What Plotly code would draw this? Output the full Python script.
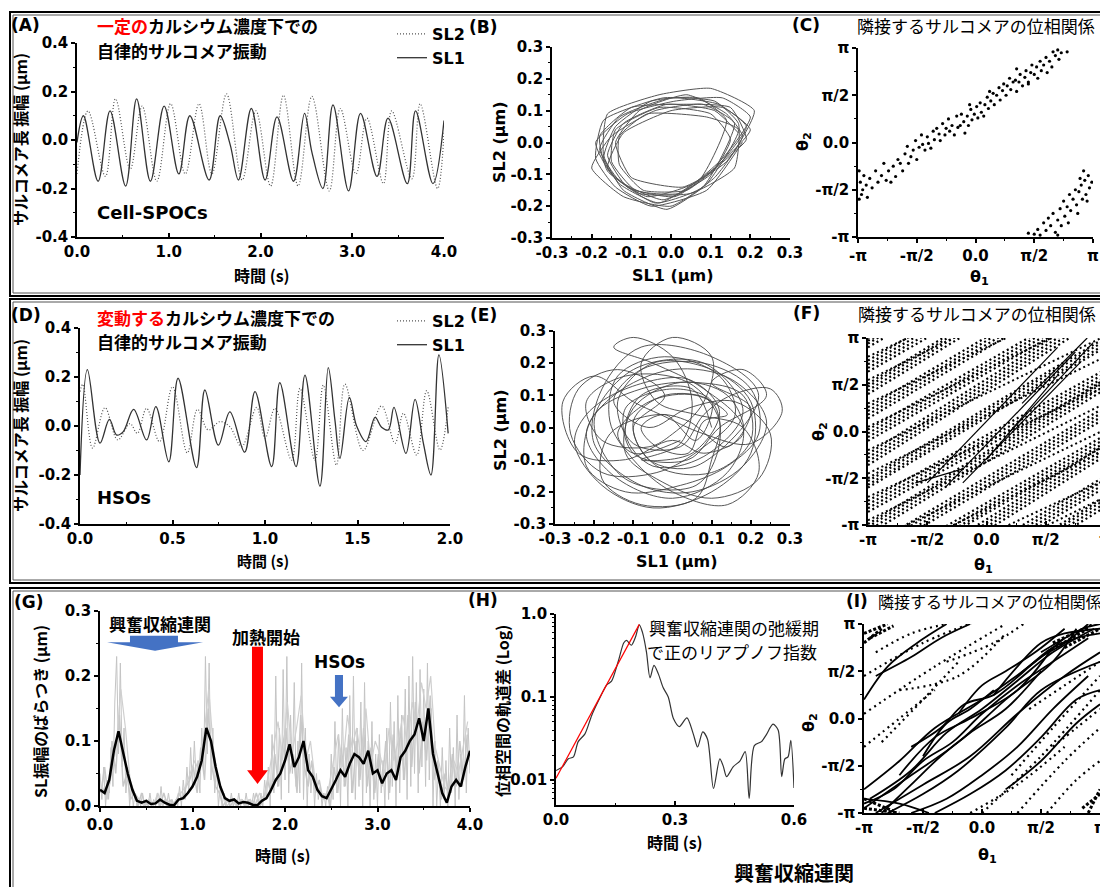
import numpy as np
import plotly.graph_objects as go

W, H = 1108, 887
OFF = 8  # the page body margin shifts the figure; reference pixel coords are corrected by this
LAT = "DejaVu Sans, Noto Sans CJK JP, sans-serif"
CJK = "Noto Sans CJK JP, DejaVu Sans, sans-serif"

# ---------------- (A) constant Ca: SL1 / SL2 amplitude vs time ----------------
a_sl1_t = [0.0, 0.07, 0.23, 0.36, 0.53, 0.65, 0.80, 0.95, 1.11, 1.23, 1.44, 1.56, 1.67, 1.76, 1.90,
           2.05, 2.18, 2.36, 2.48, 2.56, 2.68, 2.79, 2.96, 3.09, 3.27, 3.39, 3.60, 3.69, 3.88, 4.0]
a_sl1 = [-0.01, 0.10, -0.17, 0.12, -0.19, 0.17, -0.17, 0.14, -0.14, 0.10, -0.165, 0.10, -0.02, -0.165, 0.13,
         -0.165, 0.095, -0.17, 0.11, -0.05, -0.20, 0.145, -0.21, 0.11, -0.15, 0.09, -0.18, 0.12, -0.18, 0.08]
a_sl2_t = [0.0, 0.12, 0.31, 0.42, 0.58, 0.71, 0.87, 1.02, 1.18, 1.33, 1.47, 1.63, 1.80, 1.95, 2.11,
           2.25, 2.41, 2.56, 2.75, 2.87, 3.04, 3.16, 3.34, 3.43, 3.65, 3.74, 3.93, 4.0]
a_sl2 = [-0.14, 0.12, -0.15, 0.17, -0.12, 0.14, -0.17, 0.15, -0.14, 0.15, -0.14, 0.19, -0.165, 0.12, -0.19,
         0.185, -0.19, 0.18, -0.21, 0.13, -0.14, 0.09, -0.18, 0.12, -0.16, 0.15, -0.20, 0.03]

# ---------------- (B) SL2 vs SL1 loops ----------------
b_sl1 = [0.17, 0.11, -0.01, -0.12, -0.16, -0.11, 0.01, 0.12,
         0.19, 0.12, 0.00, -0.13, -0.18, -0.13, -0.02, 0.10,
         0.15, 0.10, -0.03, -0.14, -0.15, -0.09, 0.02, 0.13,
         0.20, 0.13, 0.01, -0.11, -0.19, -0.15, -0.04, 0.08,
         0.16, 0.08, -0.04, -0.15, -0.20, -0.12, 0.00, 0.11,
         0.18, 0.14, 0.04, -0.08, -0.14, -0.10, 0.03, 0.14,
         0.21, 0.10, -0.03, -0.16, -0.17, -0.12, -0.01, 0.09,
         0.17, 0.09, -0.06, -0.13, -0.13, -0.07, 0.04, 0.15,
         0.19, 0.15, 0.02, -0.10, -0.18, -0.16, -0.06, 0.07,
         0.14, 0.07, -0.05, -0.14, -0.17, -0.13, -0.03, 0.10,
         0.20, 0.13, 0.00, -0.12, -0.16, -0.08, 0.05, 0.16,
         0.17, 0.11, -0.02, -0.17, -0.19, -0.14, -0.05, 0.09, 0.18]
b_sl2 = [0.03, 0.10, 0.12, 0.06, -0.04, -0.14, -0.17, -0.07,
         0.05, 0.12, 0.14, 0.08, -0.02, -0.12, -0.18, -0.10,
         0.01, 0.09, 0.11, 0.04, -0.06, -0.15, -0.16, -0.05,
         0.08, 0.14, 0.13, 0.09, 0.00, -0.10, -0.19, -0.14,
         0.06, 0.12, 0.10, 0.02, -0.08, -0.17, -0.20, -0.11,
         0.02, 0.09, 0.15, 0.10, 0.00, -0.11, -0.14, -0.06,
         0.10, 0.17, 0.15, 0.09, -0.04, -0.15, -0.21, -0.13,
         0.04, 0.08, 0.09, 0.02, -0.07, -0.15, -0.15, -0.04,
         0.01, 0.11, 0.12, 0.11, 0.02, -0.09, -0.17, -0.12,
         0.07, 0.14, 0.13, 0.05, -0.05, -0.13, -0.19, -0.09,
         0.04, 0.11, 0.10, 0.03, -0.08, -0.16, -0.16, -0.08,
         0.06, 0.13, 0.14, 0.07, -0.05, -0.14, -0.20, -0.15, 0.00]

# ---------------- (C) phase relation, constant Ca (units of pi) ----------------
c_theta1 = [-0.99, -0.98, -0.97, -0.99, -0.96, -0.95, -0.93, -0.92, -0.90, -0.88,
            -0.85, -0.83, -0.80, -0.78, -0.76, -0.74, -0.72, -0.70, -0.68, -0.66,
            -0.64, -0.62, -0.60, -0.58, -0.57, -0.55, -0.53, -0.51, -0.50, -0.48,
            -0.46, -0.45, -0.43, -0.41, -0.40, -0.38, -0.36, -0.35, -0.33, -0.31,
            -0.30, -0.28, -0.26, -0.25, -0.23, -0.22, -0.20, -0.18, -0.16, -0.15,
            -0.13, -0.12, -0.10, -0.09, -0.07, -0.06, -0.04, -0.03, -0.01, 0.01,
            0.02, 0.04, 0.05, 0.07, 0.08, 0.10, 0.11, 0.13, 0.15, 0.16,
            0.18, 0.20, 0.21, 0.23, 0.24, 0.26, 0.27, 0.29, 0.30, 0.32,
            0.34, 0.35, 0.37, 0.38, 0.40, 0.42, 0.43, 0.45, 0.47, 0.48,
            0.50, 0.52, 0.53, 0.55, 0.56, 0.58, 0.60, 0.61, 0.63, 0.65,
            0.66, 0.68, 0.70, 0.71, 0.73, 0.78, 0.35, 0.12, -0.05, 0.45,
            0.45, 0.50, 0.53, 0.55, 0.58, 0.60, 0.62, 0.64, 0.66, 0.68,
            0.70, 0.72, 0.73, 0.75, 0.76, 0.78, 0.80, 0.81, 0.83, 0.85,
            0.86, 0.88, 0.90, 0.91, 0.93, 0.94, 0.96, 0.97, 0.99, 0.92,
            0.87, 0.79, 0.70, 0.95, 0.89]
c_theta2 = [-0.30, -0.42, -0.55, -0.60, -0.50, -0.35, -0.45, -0.58, -0.38, -0.48,
            -0.30, -0.42, -0.35, -0.22, -0.40, -0.30, -0.42, -0.25, -0.36, -0.18,
            -0.22, -0.30, -0.12, -0.04, -0.22, -0.15, -0.08, 0.02, -0.18, -0.05,
            0.08, -0.02, -0.08, 0.06, -0.01, -0.06, 0.12, 0.03, 0.15, 0.09,
            0.02, 0.20, 0.08, 0.15, 0.25, 0.12, 0.18, 0.08, 0.28, 0.16,
            0.18, 0.30, 0.22, 0.10, 0.28, 0.18, 0.35, 0.24, 0.30, 0.38,
            0.26, 0.42, 0.32, 0.28, 0.40, 0.48, 0.36, 0.44, 0.52, 0.40,
            0.50, 0.58, 0.45, 0.55, 0.62, 0.50, 0.60, 0.68, 0.56, 0.64,
            0.66, 0.54, 0.64, 0.72, 0.60, 0.69, 0.76, 0.64, 0.74, 0.82,
            0.72, 0.80, 0.68, 0.86, 0.76, 0.82, 0.90, 0.74, 0.86, 0.80,
            0.96, 0.92, 0.98, 0.88, 0.95, 0.96, 0.78, 0.54, 0.40, 0.62,
            -0.96, -0.97, -0.92, -0.98, -0.85, -0.93, -0.80, -0.88, -0.75, -0.95,
            -0.82, -0.70, -0.88, -0.62, -0.78, -0.68, -0.55, -0.72, -0.60, -0.50,
            -0.66, -0.52, -0.45, -0.60, -0.40, -0.55, -0.35, -0.48, -0.42, -0.30,
            -0.75, -0.85, -0.98, -0.62, -0.38]

# ---------------- (D) varying Ca: SL1 / SL2 vs time ----------------
d_sl1_t = [0.0, 0.04, 0.108, 0.159, 0.198, 0.234, 0.29, 0.36, 0.41, 0.48, 0.53, 0.63, 0.675, 0.748, 0.81,
           0.89, 0.946, 1.036, 1.08, 1.168, 1.216, 1.297, 1.342, 1.378, 1.405, 1.456, 1.495, 1.546, 1.595,
           1.63, 1.667, 1.697, 1.762, 1.811, 1.856, 1.897, 1.94, 1.99]
d_sl1 = [-0.2, 0.23, -0.07, 0.027, -0.037, -0.023, 0.068, -0.057, 0.079, -0.146, 0.195, -0.17, 0.147, -0.078,
         0.058, -0.107, 0.14, -0.166, 0.177, -0.166, 0.208, -0.245, 0.238, 0.024, -0.132, 0.117, 0.0, -0.064,
         0.035, -0.005, -0.016, 0.076, -0.112, 0.109, -0.07, -0.2, 0.29, -0.03]
d_sl2_t = [0.0, 0.015, 0.068, 0.135, 0.204, 0.27, 0.31, 0.36, 0.43, 0.5, 0.58, 0.635, 0.693, 0.757, 0.81,
           0.874, 0.955, 1.0, 1.054, 1.144, 1.189, 1.27, 1.315, 1.386, 1.432, 1.53, 1.63, 1.703, 1.748,
           1.82, 1.874, 1.946, 1.99]
d_sl2 = [0.14, 0.17, -0.09, 0.075, -0.057, 0.01, -0.03, 0.072, -0.064, 0.16, -0.11, 0.068, -0.016, 0.018,
         -0.003, -0.084, 0.076, -0.05, 0.072, -0.139, 0.154, -0.14, 0.167, -0.16, 0.171, -0.1, 0.082, -0.07,
         0.052, -0.119, 0.144, -0.098, 0.076]

# ---------------- (E) SL2 vs SL1 loops (varying Ca) ----------------
e_sl1 = [0.10, 0.05, -0.08, -0.12, -0.05, 0.08,
         0.18, 0.08, -0.10, -0.20, -0.12, 0.06,
         0.12, 0.10, -0.02, -0.10, -0.06, 0.06,
         0.22, 0.10, -0.08, -0.18, -0.20, -0.08,
         0.05, 0.18, 0.24, 0.15, 0.00, -0.15,
         -0.22, -0.15, 0.00, 0.14, 0.18, 0.08,
         -0.05, -0.15, -0.10, 0.00, 0.05, 0.02,
         -0.08, 0.05, 0.12, 0.04, -0.12, -0.22,
         -0.25, -0.18, -0.05, 0.10, 0.20, 0.20,
         0.10, -0.05, -0.14, -0.10, 0.02, 0.08,
         0.15, 0.25, 0.28, 0.20, 0.08, -0.03,
         -0.10, -0.20, -0.28, -0.24, -0.12, 0.00,
         0.08, 0.18, 0.14, 0.02, -0.10, -0.12,
         -0.04, 0.10, 0.22, 0.25, 0.16, 0.04,
         -0.06, -0.15, -0.08, 0.08, 0.20, 0.22,
         0.14, 0.02, -0.12, -0.22, -0.20, -0.08,
         0.06, 0.18, 0.20, 0.10, -0.04, -0.10,
         -0.02, -0.14, -0.24, -0.26, -0.18, -0.04,
         0.08, 0.16, 0.12, -0.02, -0.14, -0.16,
         -0.10, 0.00, 0.14, 0.22, 0.18, 0.06,
         -0.04, -0.08, 0.00, 0.10, 0.08, 0.00,
         -0.06, -0.18, -0.22, -0.12, 0.04, 0.12,
         0.10, 0.06, -0.08, -0.18, -0.16, -0.04,
         0.04, 0.14, 0.20, 0.10, 0.18, 0.24,
         0.12, 0.04, -0.10, -0.12, 0.00, 0.10,
         0.06, -0.02, -0.08, -0.04, 0.04, 0.08,
         0.14, 0.06, -0.06, -0.14, -0.10, 0.02]
e_sl2 = [0.00, 0.12, 0.10, -0.02, -0.12, -0.09,
         0.05, 0.20, 0.18, 0.02, -0.16, -0.18,
         -0.05, 0.08, 0.10, 0.02, -0.10, -0.12,
         0.10, 0.22, 0.25, 0.12, -0.05, -0.18,
         -0.20, -0.12, 0.02, 0.15, 0.18, 0.10,
         -0.02, -0.15, -0.22, -0.14, 0.00, 0.12,
         0.20, 0.25, 0.28, 0.22, 0.08, -0.05,
         -0.10, -0.08, 0.05, 0.15, 0.12, 0.04,
         -0.05, -0.18, -0.25, -0.20, -0.08, 0.08,
         0.18, 0.20, 0.08, -0.05, -0.06, 0.04,
         0.10, 0.12, 0.05, -0.05, -0.02, 0.04,
         0.08, 0.16, 0.08, -0.08, -0.10, -0.04,
         -0.08, -0.02, 0.10, 0.14, 0.06, -0.08,
         -0.16, -0.22, -0.16, -0.02, 0.08, 0.06,
         0.00, 0.08, 0.18, 0.20, 0.12, -0.02,
         -0.12, -0.18, -0.20, -0.12, 0.04, 0.12,
         0.14, 0.10, -0.04, -0.14, -0.12, 0.00,
         0.10, 0.18, 0.12, -0.02, -0.14, -0.14,
         -0.06, 0.04, 0.16, 0.22, 0.16, 0.02,
         -0.10, -0.20, -0.24, -0.14, 0.00, 0.04,
         0.08, 0.20, 0.28, 0.22, 0.08, -0.02,
         -0.06, -0.04, 0.08, 0.16, 0.14, 0.02,
         -0.10, -0.22, -0.24, -0.16, -0.02, 0.04,
         0.02, -0.06, 0.06, 0.14, 0.18, 0.10,
         0.00, -0.10, -0.08, 0.06, 0.12, 0.08,
         -0.04, 0.04, 0.00, -0.06, -0.08, 0.02,
         0.04, 0.10, 0.08, -0.02, -0.08, -0.04]

# ---------------- (F) phase relation streaks, varying Ca (units of pi) ----------------
f_left = [-2.60, -2.56, -2.52, -2.48, -2.36, -2.32, -2.28, -2.25, -2.10, -2.06, -2.02, -1.98,
          -1.86, -1.82, -1.78, -1.74, -1.60, -1.57, -1.53, -1.49, -1.36, -1.32, -1.28, -1.24,
          -1.10, -1.06, -1.02, -0.99, -0.86, -0.82, -0.78, -0.74, -0.60, -0.57, -0.53, -0.50,
          -0.36, -0.32, -0.28, -0.24, -0.10, -0.06, -0.02, 0.02, 0.14, 0.18, 0.22, 0.26,
          0.40, 0.44, 0.48, 0.51, 0.64, 0.68, 0.72, 0.76, 0.90, 0.94, 0.97, 1.00]
f_right = [-1.15, -1.11, -1.07, -1.03, -0.81, -0.77, -0.73, -0.70, -0.60, -0.56, -0.52, -0.48,
           -0.26, -0.22, -0.18, -0.14, -0.15, -0.12, -0.08, -0.04, 0.14, 0.18, 0.22, 0.26,
           0.45, 0.49, 0.53, 0.56, 0.54, 0.58, 0.62, 0.66, 0.90, 0.93, 0.97, 1.00,
           1.24, 1.28, 1.32, 1.36, 1.35, 1.39, 1.43, 1.47, 1.64, 1.68, 1.72, 1.76,
           1.95, 1.99, 2.03, 2.06, 2.09, 2.13, 2.17, 2.21, 2.40, 2.44, 2.47, 2.50]
f_left2 = [-2.20, -1.95, -1.70, -1.45, -1.20, -0.95, -0.70, -0.45, -0.20, 0.05, 0.30, 0.55, 0.80]
f_right2 = [-1.00, -0.70, -0.52, -0.20, 0.02, 0.30, 0.48, 0.80, 1.02, 1.28, 1.50, 1.80, 2.00]
f_ex_x0 = [-0.35, -0.20, -0.50, 0.20, -0.60, 0.00, 0.30]
f_ex_y0 = [-0.60, -0.55, -0.55, 0.00, -0.55, -0.30, 0.30]
f_ex_x1 = [0.75, 0.80, 0.60, 0.90, -0.20, 0.60, 0.85]
f_ex_y1 = [0.85, 0.75, 0.90, 0.95, -0.40, 0.60, 1.00]

# ---------------- (G) SL amplitude variability ----------------
g_gray1 = [0.05, 0.01, 0.06, 0.00, 0.04, 0.02, 0.09, 0.03, 0.16, 0.23,
           0.08, 0.22, 0.06, 0.12, 0.02, 0.06, 0.00, 0.03, 0.00, 0.02,
           0.00, 0.01, 0.00, 0.02, 0.00, 0.01, 0.00, 0.02, 0.00, 0.01,
           0.00, 0.02, 0.00, 0.03, 0.00, 0.01, 0.00, 0.02, 0.00, 0.01,
           0.00, 0.01, 0.00, 0.03, 0.00, 0.04, 0.01, 0.06, 0.02, 0.09,
           0.03, 0.10, 0.04, 0.07, 0.02, 0.12, 0.05, 0.23, 0.08, 0.22,
           0.04, 0.12, 0.02, 0.06, 0.00, 0.03, 0.00, 0.02, 0.00, 0.01,
           0.00, 0.02, 0.00, 0.01, 0.00, 0.02, 0.00, 0.01, 0.00, 0.02,
           0.00, 0.01, 0.00, 0.02, 0.00, 0.01, 0.00, 0.02, 0.00, 0.04,
           0.01, 0.06, 0.00, 0.11, 0.02, 0.20, 0.03, 0.12, 0.01, 0.21,
           0.04, 0.23, 0.02, 0.14, 0.05, 0.19, 0.03, 0.10, 0.02, 0.22,
           0.01, 0.12, 0.00, 0.08, 0.02, 0.06, 0.00, 0.05, 0.01, 0.03,
           0.00, 0.02, 0.00, 0.03, 0.00, 0.08, 0.01, 0.13, 0.02, 0.11,
           0.00, 0.15, 0.03, 0.09, 0.00, 0.17, 0.02, 0.20, 0.01, 0.12,
           0.03, 0.16, 0.00, 0.19, 0.02, 0.10, 0.00, 0.13, 0.01, 0.08,
           0.00, 0.11, 0.02, 0.07, 0.00, 0.12, 0.01, 0.16, 0.03, 0.13,
           0.00, 0.17, 0.02, 0.14, 0.04, 0.18, 0.01, 0.20, 0.03, 0.23,
           0.05, 0.19, 0.02, 0.21, 0.06, 0.18, 0.03, 0.22, 0.04, 0.15,
           0.00, 0.10, 0.00, 0.06, 0.00, 0.09, 0.01, 0.07, 0.00, 0.12,
           0.02, 0.09, 0.00, 0.14, 0.01, 0.08, 0.03, 0.17, 0.02, 0.12,
           0.05]
g_gray2 = [0.02, 0.06, 0.01, 0.10, 0.05, 0.14, 0.03, 0.05, 0.01, 0.02,
           0.00, 0.02, 0.00, 0.01, 0.00, 0.01, 0.00, 0.02, 0.00, 0.01,
           0.00, 0.02, 0.01, 0.03, 0.04, 0.06, 0.02, 0.09, 0.04, 0.15,
           0.06, 0.03, 0.02, 0.00, 0.01, 0.00, 0.01, 0.00, 0.01, 0.00,
           0.01, 0.00, 0.02, 0.00, 0.01, 0.04, 0.02, 0.08, 0.03, 0.09,
           0.12, 0.05, 0.08, 0.02, 0.14, 0.06, 0.03, 0.07, 0.02, 0.04,
           0.01, 0.02, 0.00, 0.06, 0.02, 0.09, 0.03, 0.11, 0.02, 0.10,
           0.04, 0.12, 0.03, 0.09, 0.02, 0.08, 0.03, 0.10, 0.02, 0.11,
           0.05, 0.12, 0.04, 0.14, 0.06, 0.16, 0.05, 0.13, 0.07, 0.17,
           0.04, 0.07, 0.01, 0.05, 0.02, 0.08, 0.03, 0.10, 0.04, 0.11]
g_gray3 = [0.03, 0.01, 0.05, 0.09, 0.18, 0.12, 0.04, 0.02, 0.01, 0.00,
           0.01, 0.00, 0.02, 0.00, 0.01, 0.00, 0.01, 0.02, 0.03, 0.05,
           0.07, 0.05, 0.11, 0.18, 0.09, 0.04, 0.02, 0.00, 0.01, 0.00,
           0.01, 0.00, 0.01, 0.00, 0.02, 0.01, 0.05, 0.09, 0.13, 0.07,
           0.16, 0.08, 0.12, 0.17, 0.07, 0.10, 0.04, 0.02, 0.01, 0.03,
           0.07, 0.11, 0.06, 0.14, 0.09, 0.12, 0.07, 0.15, 0.06, 0.10,
           0.08, 0.05, 0.12, 0.07, 0.10, 0.14, 0.09, 0.16, 0.12, 0.19,
           0.15, 0.20, 0.09, 0.06, 0.03, 0.02, 0.07, 0.05, 0.09, 0.13]
g_mean = [0.025, 0.02, 0.04, 0.085, 0.115, 0.08, 0.05, 0.025, 0.008, 0.005,
          0.008, 0.003, 0.004, 0.01, 0.005, 0.002, 0.001, 0.01, 0.012, 0.02,
          0.03, 0.045, 0.07, 0.12, 0.1, 0.06, 0.03, 0.012, 0.008, 0.01,
          0.004, 0.006, 0.005, 0.002, 0.001, 0.008, 0.012, 0.025, 0.04, 0.05,
          0.07, 0.095, 0.06, 0.075, 0.1, 0.055, 0.045, 0.025, 0.015, 0.012,
          0.025, 0.04, 0.055, 0.045, 0.065, 0.08, 0.075, 0.065, 0.085, 0.05,
          0.055, 0.035, 0.05, 0.055, 0.04, 0.075, 0.085, 0.1, 0.11, 0.135,
          0.1, 0.15, 0.08, 0.05, 0.02, 0.005, 0.03, 0.04, 0.03, 0.06,
          0.085]
g_t1 = np.round(np.arange(len(g_gray1)) * 0.02, 3)
g_t2 = np.round(0.01 + np.arange(len(g_gray2)) * 0.04, 3)
g_t3 = np.round(0.025 + np.arange(len(g_gray3)) * 0.05, 3)
g_tm = np.round(np.arange(len(g_mean)) * 0.05, 3)

# ---------------- (H) trajectory divergence (log) ----------------
h_t = [0.0, 0.017, 0.031, 0.044, 0.056, 0.073, 0.09, 0.107, 0.128, 0.14, 0.157, 0.171, 0.178, 0.19, 0.2,
       0.21, 0.218, 0.228, 0.237, 0.247, 0.258, 0.27, 0.283, 0.296, 0.311, 0.33, 0.346, 0.357, 0.37, 0.382,
       0.397, 0.413, 0.422, 0.43, 0.447, 0.464, 0.477, 0.487, 0.5, 0.518, 0.53, 0.547, 0.56, 0.569, 0.577,
       0.585, 0.592, 0.6]
h_v = [0.013, 0.0145, 0.018, 0.019, 0.029, 0.036, 0.06, 0.09, 0.14, 0.155, 0.27, 0.45, 0.48, 0.42, 0.52,
       0.74, 0.6, 0.35, 0.17, 0.24, 0.19, 0.13, 0.1, 0.055, 0.044, 0.056, 0.036, 0.025, 0.038, 0.031,
       0.0079, 0.018, 0.0145, 0.011, 0.0145, 0.017, 0.022, 0.006, 0.026, 0.029, 0.035, 0.047, 0.04, 0.011,
       0.018, 0.019, 0.03, 0.008]
h_fit_t = [0.0, 0.21]
h_fit_v = [0.0105, 0.75]

# ---------------- (I) phase relation, E-C coupling (units of pi) ----------------
i_solid_x = [[-1.0, -0.6, -0.2, 0.2, 0.6, 0.8], [-0.9, -0.5, -0.1, 0.3, 0.7, 1.0],
             [-1.0, -0.7, -0.4, 0.0, 0.4, 0.7], [-0.8, -0.5, -0.2, 0.2, 0.5, 1.0],
             [-0.7, -0.4, -0.1, 0.3, 0.6], [-0.6, -0.3, 0.0, 0.3, 0.6, 0.9],
             [-0.4, -0.1, 0.2, 0.5, 0.8, 1.0], [-1.0, -0.8, -0.55, -0.3],
             [-0.9, -0.6, -0.35, -0.1], [-0.2, 0.0, 0.2, 0.45, 0.7],
             [0.1, 0.3, 0.5, 0.7, 1.0], [0.3, 0.5, 0.7, 0.9],
             [-0.5, -0.3, -0.1, 0.1], [0.2, 0.5, 0.8, 1.0], [-1.0, -0.7, -0.45],
             [-1.0, -0.75, -0.5, -0.25, 0.0, 0.3, 0.6, 0.9], [-0.95, -0.6, -0.3, 0.0, 0.3, 0.6, 0.95],
             [-0.85, -0.6, -0.35, -0.1, 0.2, 0.5], [-0.6, -0.35, -0.15, 0.1, 0.4],
             [0.4, 0.6, 0.8, 1.0], [0.5, 0.7, 0.85, 1.0]]
i_solid_y = [[-0.95, -0.6, -0.25, 0.2, 0.6, 0.95], [-1.0, -0.7, -0.4, 0.05, 0.45, 0.7],
             [-0.75, -0.45, -0.1, 0.2, 0.55, 0.85], [-1.0, -0.8, -0.55, -0.1, 0.3, 0.6],
             [-0.6, -0.2, 0.0, 0.3, 0.75], [-1.0, -0.85, -0.6, -0.3, 0.1, 0.45],
             [-1.0, -0.8, -0.55, -0.2, 0.2, 0.3], [0.2, 0.55, 0.8, 1.0],
             [0.45, 0.65, 0.85, 1.0], [0.05, 0.35, 0.5, 0.7, 0.95],
             [0.25, 0.55, 0.8, 0.9, 0.95], [0.45, 0.65, 0.8, 1.0],
             [-0.4, -0.05, 0.1, 0.3], [-0.75, -0.45, -0.05, 0.15], [-0.85, -0.9, -1.0],
             [-0.9, -0.75, -0.45, -0.25, 0.05, 0.35, 0.6, 0.85], [-0.85, -0.55, -0.15, 0.1, 0.4, 0.7, 0.95],
             [-1.0, -0.7, -0.4, -0.15, 0.1, 0.5], [-0.3, -0.1, 0.15, 0.25, 0.55],
             [0.55, 0.75, 0.85, 0.9], [0.7, 0.85, 0.95, 1.0]]
i_dot_x = [[-1.0, -0.5, 0.0], [-1.0, -0.4, 0.2], [-0.85, -0.5, -0.2], [-0.7, -0.2, 0.2],
           [-0.3, 0.1, 0.35], [0.0, 0.5, 1.0], [0.3, 0.7, 1.0], [0.55, 0.8, 1.0],
           [0.25, 0.6, 1.0], [0.4, 0.7, 1.0], [-0.1, 0.3, 0.7], [-1.0, -0.7, -0.4],
           [-0.9, -0.6, -0.3], [0.6, 0.8, 1.0]]
i_dot_y = [[0.45, 0.8, 1.05], [0.05, 0.55, 1.0], [-0.25, 0.2, 0.6], [0.3, 0.45, 0.9],
           [0.6, 0.8, 1.0], [-1.0, -0.4, 0.3], [-1.0, -0.45, -0.1], [-1.0, -0.65, -0.45],
           [-0.6, -0.1, 0.45], [0.1, 0.35, 0.6], [-1.0, -0.7, -0.3], [-0.3, 0.0, 0.3],
           [0.7, 0.9, 1.0], [-0.3, -0.1, 0.1]]
i_clus_x = [[-1.0, -0.8], [-1.0, -0.85], [-0.95, -0.75], [0.6, 0.95], [0.7, 1.0], [0.55, 0.9],
            [-1.0, -0.7], [-1.0, -0.75], [0.85, 1.0], [0.9, 1.0]]
i_clus_y = [[0.9, 1.0], [0.8, 0.95], [0.85, 0.98], [0.8, 1.0], [0.75, 0.95], [0.7, 0.95],
            [-0.95, -1.0], [-0.85, -0.98], [-0.95, -0.8], [-1.0, -0.75]]

# ---------------- tick labels ----------------
PI_VALS = [-1, -0.5, 0, 0.5, 1]
PI_TEXT = ["-π", "-π/2", "0.0", "π/2", "π"]
AMP_VALS = [-0.4, -0.2, 0.0, 0.2, 0.4]
AMP_TEXT = ["-0.4", "-0.2", "0.0", "0.2", "0.4"]
SL_VALS = [-0.3, -0.2, -0.1, 0.0, 0.1, 0.2, 0.3]
SL_TEXT = ["-0.3", "-0.2", "-0.1", "0.0", "0.1", "0.2", "0.3"]


def px(x):
    return (x - OFF) / W


def py(y):
    return 1 - (y - OFF) / H


fig = go.Figure()

# A
fig.add_trace(go.Scatter(x=a_sl2_t, y=a_sl2, mode="lines", name="SL2", legend="legend",
                         line=dict(color="#555555", width=1.2, dash="1px,2px", shape="spline"), xaxis="x", yaxis="y"))
fig.add_trace(go.Scatter(x=a_sl1_t, y=a_sl1, mode="lines", name="SL1", legend="legend",
                         line=dict(color="#333333", width=1.3, shape="spline"), xaxis="x", yaxis="y"))
# B
fig.add_trace(go.Scatter(x=b_sl1, y=b_sl2, mode="lines", showlegend=False,
                         line=dict(color="#555555", width=1, shape="spline", smoothing=0.5), xaxis="x2", yaxis="y2"))
# C
fig.add_trace(go.Scatter(x=c_theta1, y=c_theta2, mode="markers", showlegend=False,
                         marker=dict(color="black", size=3.2), xaxis="x3", yaxis="y3"))
# D
fig.add_trace(go.Scatter(x=d_sl2_t, y=d_sl2, mode="lines", name="SL2", legend="legend2",
                         line=dict(color="#555555", width=1.2, dash="1px,2px", shape="spline"), xaxis="x4", yaxis="y4"))
fig.add_trace(go.Scatter(x=d_sl1_t, y=d_sl1, mode="lines", name="SL1", legend="legend2",
                         line=dict(color="#333333", width=1.3, shape="spline"), xaxis="x4", yaxis="y4"))
# E
fig.add_trace(go.Scatter(x=e_sl1, y=e_sl2, mode="lines", showlegend=False,
                         line=dict(color="#444444", width=0.9, shape="spline"), xaxis="x5", yaxis="y5"))
# F
for l, r in zip(f_left, f_right):
    fig.add_trace(go.Scatter(x=[-1, 1], y=[l, r], mode="lines", showlegend=False,
                             line=dict(color="black", width=2.2, dash="2px,3px"), xaxis="x6", yaxis="y6"))
for l, r in zip(f_left2, f_right2):
    fig.add_trace(go.Scatter(x=[-1, 1], y=[l, r], mode="lines", showlegend=False,
                             line=dict(color="black", width=2.0, dash="2px,3px"), xaxis="x6", yaxis="y6"))
for x0, y0, x1, y1 in zip(f_ex_x0, f_ex_y0, f_ex_x1, f_ex_y1):
    fig.add_trace(go.Scatter(x=[x0, x1], y=[y0, y1], mode="lines", showlegend=False,
                             line=dict(color="black", width=1.2), xaxis="x6", yaxis="y6"))
# G
fig.add_trace(go.Scatter(x=g_t1, y=g_gray1, mode="lines", showlegend=False,
                         line=dict(color="#c4c4c4", width=1), xaxis="x7", yaxis="y7"))
fig.add_trace(go.Scatter(x=g_t2, y=g_gray2, mode="lines", showlegend=False,
                         line=dict(color="#c8c8c8", width=1.5), xaxis="x7", yaxis="y7"))
fig.add_trace(go.Scatter(x=g_t3, y=g_gray3, mode="lines", showlegend=False,
                         line=dict(color="#cfcfcf", width=1.2), xaxis="x7", yaxis="y7"))
fig.add_trace(go.Scatter(x=g_tm, y=g_mean, mode="lines", showlegend=False,
                         line=dict(color="black", width=2.5), xaxis="x7", yaxis="y7"))
# H
fig.add_trace(go.Scatter(x=h_t, y=h_v, mode="lines", showlegend=False,
                         line=dict(color="#333333", width=1.2, shape="spline", smoothing=0.8), xaxis="x8", yaxis="y8"))
fig.add_trace(go.Scatter(x=h_fit_t, y=h_fit_v, mode="lines", showlegend=False,
                         line=dict(color="red", width=1.2), xaxis="x8", yaxis="y8"))
# I
for xs, ys in zip(i_dot_x, i_dot_y):
    fig.add_trace(go.Scatter(x=xs, y=ys, mode="lines", showlegend=False,
                             line=dict(color="black", width=2.2, dash="2px,4px", shape="spline"), xaxis="x9", yaxis="y9"))
for xs, ys in zip(i_solid_x, i_solid_y):
    fig.add_trace(go.Scatter(x=xs, y=ys, mode="lines", showlegend=False,
                             line=dict(color="black", width=1.8, shape="spline"), xaxis="x9", yaxis="y9"))
for xs, ys in zip(i_clus_x, i_clus_y):
    fig.add_trace(go.Scatter(x=xs, y=ys, mode="lines", showlegend=False,
                             line=dict(color="black", width=3, dash="3px,2px"), xaxis="x9", yaxis="y9"))

tickfont = dict(family=LAT, size=15, color="black", weight="bold")


def axis(dom, rng, ticks="outside", **kw):
    d = dict(domain=dom, range=rng, showline=True, linecolor="black", linewidth=1.5,
             ticks=ticks, ticklen=4, tickwidth=1.5, tickcolor="black", showgrid=False,
             zeroline=False, tickfont=tickfont, mirror=False, automargin=False, tickangle=0,
             minor=dict(ticks=ticks, ticklen=2.5, tickwidth=1.2, tickcolor="black", dtick=kw.pop("mdt", None)))
    d.update(kw)
    return d


def dx(a, b):
    return [px(a), px(b)]


def dy(top, bot):
    return [py(bot), py(top)]


lay = {}
# A
lay["xaxis"] = axis(dx(77, 444), [0, 4], "inside", anchor="y", dtick=1, tickformat=".1f", mdt=0.5)
lay["yaxis"] = axis(dy(43, 237), [-0.4, 0.4], anchor="x", tickvals=AMP_VALS, ticktext=AMP_TEXT, mdt=0.1)
# B
lay["xaxis2"] = axis(dx(552, 790), [-0.3, 0.3], "inside", anchor="y2", tickvals=SL_VALS, ticktext=SL_TEXT, mdt=0.05)
lay["yaxis2"] = axis(dy(47, 238), [-0.3, 0.3], anchor="x2", tickvals=SL_VALS, ticktext=SL_TEXT, mdt=0.05)
# C
lay["xaxis3"] = axis(dx(858, 1093), [-1, 1], anchor="y3", tickvals=PI_VALS, ticktext=PI_TEXT, mdt=0.25)
lay["yaxis3"] = axis(dy(48, 237), [-1, 1], anchor="x3", tickvals=PI_VALS, ticktext=PI_TEXT, mdt=0.25)
# D
lay["xaxis4"] = axis(dx(80, 450), [0, 2], "inside", anchor="y4", dtick=0.5, tickformat=".1f", mdt=0.25)
lay["yaxis4"] = axis(dy(328, 524), [-0.4, 0.4], anchor="x4", tickvals=AMP_VALS, ticktext=AMP_TEXT, mdt=0.1)
# E
lay["xaxis5"] = axis(dx(555, 790), [-0.3, 0.3], "inside", anchor="y5", tickvals=SL_VALS, ticktext=SL_TEXT, mdt=0.05)
lay["yaxis5"] = axis(dy(331, 524), [-0.3, 0.3], anchor="x5", tickvals=SL_VALS, ticktext=SL_TEXT, mdt=0.05)
# F
lay["xaxis6"] = axis(dx(868, 1105), [-1, 1], "inside", anchor="y6", tickvals=PI_VALS, ticktext=PI_TEXT, mdt=0.25)
lay["yaxis6"] = axis(dy(338, 525), [-1, 1], anchor="x6", tickvals=PI_VALS, ticktext=PI_TEXT, mdt=0.25)
# G
lay["xaxis7"] = axis(dx(100, 470), [0, 4], anchor="y7", dtick=1, tickformat=".1f", mdt=0.5)
lay["yaxis7"] = axis(dy(611, 806), [0, 0.3], anchor="x7", dtick=0.1, tickformat=".1f", mdt=0.05)
# H
lay["xaxis8"] = axis(dx(556, 794), [0, 0.6], "inside", anchor="y8", dtick=0.3, tickformat=".1f", mdt=0.15)
lay["yaxis8"] = axis(dy(614, 805), [np.log10(0.005), 0], anchor="x8", type="log",
                     tickvals=[0.01, 0.1, 1.0], ticktext=["0.01", "0.1", "1.0"])
lay["yaxis8"]["minor"] = dict(ticks="outside", ticklen=2.5, tickwidth=1, tickcolor="black", tickmode="array",
                              tickvals=[0.006, 0.007, 0.008, 0.009, 0.02, 0.03, 0.04, 0.05, 0.06, 0.07, 0.08,
                                        0.09, 0.2, 0.3, 0.4, 0.5, 0.6, 0.7, 0.8, 0.9])
# I
lay["xaxis9"] = axis(dx(864, 1100), [-1, 1], "inside", anchor="y9", tickvals=PI_VALS, ticktext=PI_TEXT, mdt=0.25)
lay["yaxis9"] = axis(dy(624, 813), [-1, 1], anchor="x9", tickvals=PI_VALS, ticktext=PI_TEXT, mdt=0.25)

anns = []


def ann(x, y, text, size=16, bold=True, xanchor="center", color="black", angle=0, family=CJK):
    anns.append(dict(x=px(x), y=py(y), xref="paper", yref="paper", text=text, showarrow=False,
                     xanchor=xanchor, yanchor="middle", textangle=angle,
                     font=dict(family=family, size=size, color=color, weight="bold" if bold else "normal")))


RED = '<span style="color:#ff0000">'
# row 1
ann(9, 25, "(A)", 17, True, "left", family=LAT)
ann(95, 25, RED + "一定の</span>カルシウム濃度下での", 17, True, "left")
ann(95, 50, "自律的サルコメア振動", 17, True, "left")
ann(95, 212, "Cell-SPOCs", 18, True, "left", family=LAT)
ann(20, 140, "サルコメア長 振幅 (μm)", 16, True, angle=-90)
ann(262, 275, "時間 (s)", 16, True)
ann(483, 27, "(B)", 17, True, family=LAT)
ann(499, 142, "SL2 (μm)", 16, True, angle=-90, family=LAT)
ann(673, 275, "SL1 (μm)", 16, True, family=LAT)
ann(806, 25, "(C)", 17, True, family=LAT)
ann(976, 25, "隣接するサルコメアの位相関係", 17, False)
ann(803, 142, "θ<sub>2</sub>", 16, True, angle=-90, family=LAT)
ann(979, 277, "θ<sub>1</sub>", 16, True, family=LAT)
# row 2
ann(9, 315, "(D)", 17, True, "left", family=LAT)
ann(95, 317, RED + "変動する</span>カルシウム濃度下での", 17, True, "left")
ann(95, 342, "自律的サルコメア振動", 17, True, "left")
ann(95, 497, "HSOs", 18, True, "left", family=LAT)
ann(20, 426, "サルコメア長 振幅 (μm)", 16, True, angle=-90)
ann(263, 560, "時間 (s)", 15, True)
ann(483, 315, "(E)", 17, True, family=LAT)
ann(500, 430, "SL2 (μm)", 16, True, angle=-90, family=LAT)
ann(677, 561, "SL1 (μm)", 16, True, family=LAT)
ann(806, 313, "(F)", 17, True, family=LAT)
ann(977, 313, "隣接するサルコメアの位相関係", 17, False)
ann(820, 432, "θ<sub>2</sub>", 16, True, angle=-90, family=LAT)
ann(983, 565, "θ<sub>1</sub>", 16, True, family=LAT)
# row 3
ann(12, 602, "(G)", 17, True, "left", family=LAT)
ann(160, 623, "興奮収縮連関", 17, True)
ann(266, 636, "加熱開始", 17, True)
ann(339, 662, "HSOs", 17, True, family=LAT)
ann(40, 712, "SL振幅のばらつき (μm)", 16, True, angle=-90)
ann(283, 855, "時間 (s)", 16, True)
ann(483, 600, "(H)", 17, True, family=LAT)
ann(502, 711, "位相空間の軌道差 (Log)", 16, True, angle=-90)
ann(675, 842, "時間 (s)", 16, True)
ann(647, 627, "興奮収縮連関の弛緩期", 17, False, "left")
ann(645, 651, "で正のリアプノフ指数", 17, False, "left")
ann(857, 601, "(I)", 17, True, family=LAT)
ann(990, 601, "隣接するサルコメアの位相関係", 16, False)
ann(809, 722, "θ<sub>2</sub>", 16, True, angle=-90, family=LAT)
ann(987, 855, "θ<sub>1</sub>", 16, True, family=LAT)
ann(794, 872, "興奮収縮連関", 20, True)

shapes = []
# row frames (double lines)
for top, bot in [(12, 296), (299, 583), (588, 905)]:
    shapes.append(dict(type="rect", xref="paper", yref="paper", x0=px(10), x1=px(1106), y0=py(bot), y1=py(top),
                       line=dict(color="black", width=2)))
    shapes.append(dict(type="rect", xref="paper", yref="paper", x0=px(13), x1=px(1103), y0=py(bot - 3),
                       y1=py(top + 3), line=dict(color="#555555", width=1)))
# G arrows (data coordinates of panel G)
BLUE = "#4472c4"
shapes.append(dict(type="path", xref="x7", yref="y7", fillcolor=BLUE, line=dict(width=0),
                   path="M 0.324,0.262 L 0.843,0.262 L 0.843,0.252 L 1.114,0.252 L 0.595,0.239 "
                        "L 0.076,0.252 L 0.324,0.252 Z"))
shapes.append(dict(type="path", xref="x7", yref="y7", fillcolor="#ff0000", line=dict(width=0),
                   path="M 1.643,0.245 L 1.762,0.245 L 1.762,0.055 L 1.815,0.055 L 1.703,0.034 "
                        "L 1.59,0.055 L 1.643,0.055 Z"))
shapes.append(dict(type="path", xref="x7", yref="y7", fillcolor=BLUE, line=dict(width=0),
                   path="M 2.54,0.2015 L 2.627,0.2015 L 2.627,0.168 L 2.681,0.168 L 2.584,0.152 "
                        "L 2.486,0.168 L 2.54,0.168 Z"))

leg_font = dict(family=LAT, size=16, color="black", weight="bold")
fig.update_layout(
    width=W, height=H, autosize=False,
    margin=dict(l=0, r=0, t=0, b=0, pad=0, autoexpand=False),
    paper_bgcolor="white", plot_bgcolor="white",
    annotations=anns, shapes=shapes,
    legend=dict(x=px(392), y=py(17), xanchor="left", yanchor="top", font=leg_font,
                bgcolor="rgba(0,0,0,0)", tracegroupgap=0, itemwidth=30, traceorder="normal"),
    legend2=dict(x=px(392), y=py(304), xanchor="left", yanchor="top", font=leg_font,
                 bgcolor="rgba(0,0,0,0)", tracegroupgap=0, itemwidth=30, traceorder="normal"),
    **lay,
)

fig.write_html("out.html")
